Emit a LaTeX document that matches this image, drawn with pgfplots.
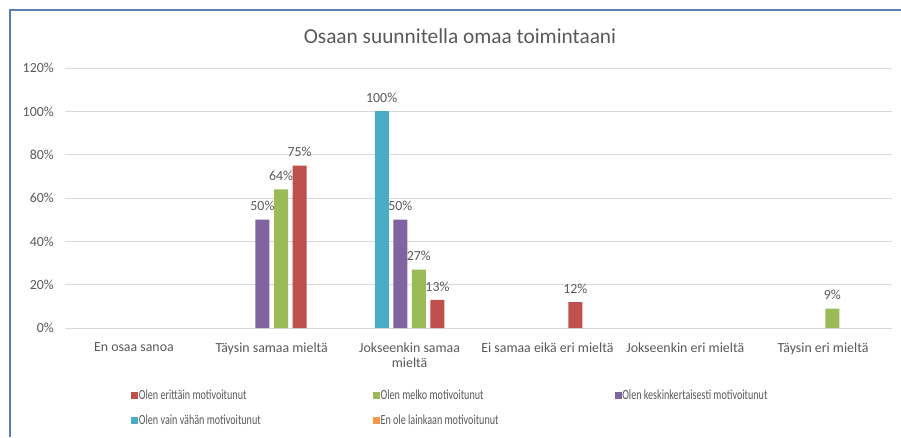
\documentclass[border=0pt]{standalone}
\usepackage{fontspec}
\setmainfont{Carlito}
\newfontfamily\legfont[FakeStretch=0.73]{Carlito}
\usepackage{pgfplots}
\pgfplotsset{compat=1.18}
\definecolor{txt}{HTML}{595959}
\definecolor{grd}{HTML}{D9D9D9}
\definecolor{cRed}{HTML}{C0504D}
\definecolor{cGreen}{HTML}{9BBB59}
\definecolor{cPurple}{HTML}{8064A2}
\definecolor{cBlue}{HTML}{4BACC6}
\definecolor{cOrange}{HTML}{F79646}
\definecolor{frm}{HTML}{5B7DB3}
\begin{document}
\begin{tikzpicture}
\path[use as bounding box] (0,0) rectangle (675.75pt,327.75pt);
\draw[frm, line width=1.5pt] (7.5pt,0) -- (7.5pt,320.25pt) -- (675.75pt,320.25pt);
\node[text=txt, font=\fontsize{16}{19}\selectfont] at (345pt,300.75pt) {Osaan suunnitella omaa toimintaani};
\begin{axis}[
  at={(48.75pt,81.75pt)}, anchor=south west,
  scale only axis, width=620.25pt, height=195pt,
  xmin=-0.5, xmax=5.5, ymin=0, ymax=120,
  ytick={0,20,...,120},
  yticklabel={\pgfmathprintnumber{\tick}\%},
  xtick={0,...,5},
  xticklabels={En osaa sanoa, Täysin samaa mieltä, {Jokseenkin samaa\\mieltä}, Ei samaa eikä eri mieltä, Jokseenkin eri mieltä, Täysin eri mieltä},
  xticklabel style={align=center, font=\fontsize{10.4}{11.3}\selectfont, text=txt, inner sep=0pt, yshift=-11pt},
  yticklabel style={font=\fontsize{10.4}{12}\selectfont, text=txt, inner sep=0pt, xshift=-8.25pt},
  /pgf/number format/assume math mode=true,
  major tick length=0pt,
  axis line style={draw=none},
  ymajorgrids, grid style={grd, line width=0.75pt},
  nodes near coords={\pgfmathprintnumber{\pgfplotspointmeta}\%},
  nodes near coords style={font=\fontsize{10.4}{12}\selectfont, text=txt},
  legend columns=3,
  reverse legend,
  legend cell align=left,
  legend image code/.code={\fill[#1] (0pt,-2.625pt) rectangle (5.25pt,2.625pt);},
  legend style={at={(0.0798,-0.232)}, anchor=north west, draw=none, fill=none, inner sep=0pt,
    nodes={inner sep=0.5pt, text height=7.5pt, text depth=2pt, text=txt, font=\legfont\fontsize{10.4}{12}\selectfont},
    row sep=8.25pt, column sep=0pt},
]
\addlegendimage{fill=cOrange, draw=none}
\addlegendentry{\makebox[175pt][l]{En ole lainkaan motivoitunut}}
\addplot[ybar, bar width=10.5pt, bar shift=-20.925pt, fill=cBlue, draw=none,
  every node near coord/.append style={xshift=-20.925pt, yshift=3pt}] coordinates {(2,100)};
\addlegendentry{\makebox[175pt][l]{Olen vain vähän motivoitunut}}
\addplot[ybar, bar width=10.5pt, bar shift=-6.975pt, fill=cPurple, draw=none,
  every node near coord/.append style={xshift=-6.975pt, yshift=3pt}] coordinates {(1,50) (2,50)};
\addlegendentry{Olen keskinkertaisesti motivoitunut}
\addplot[ybar, bar width=10.5pt, bar shift=6.975pt, fill=cGreen, draw=none,
  every node near coord/.append style={xshift=6.975pt, yshift=3pt}] coordinates {(1,64) (2,27) (5,9)};
\addlegendentry{\makebox[175pt][l]{Olen melko motivoitunut}}
\addplot[ybar, bar width=10.5pt, bar shift=20.925pt, fill=cRed, draw=none,
  every node near coord/.append style={xshift=20.925pt, yshift=3pt}] coordinates {(1,75) (2,13) (3,12)};
\addlegendentry{\makebox[175pt][l]{Olen erittäin motivoitunut}}
\end{axis}
\end{tikzpicture}
\end{document}
